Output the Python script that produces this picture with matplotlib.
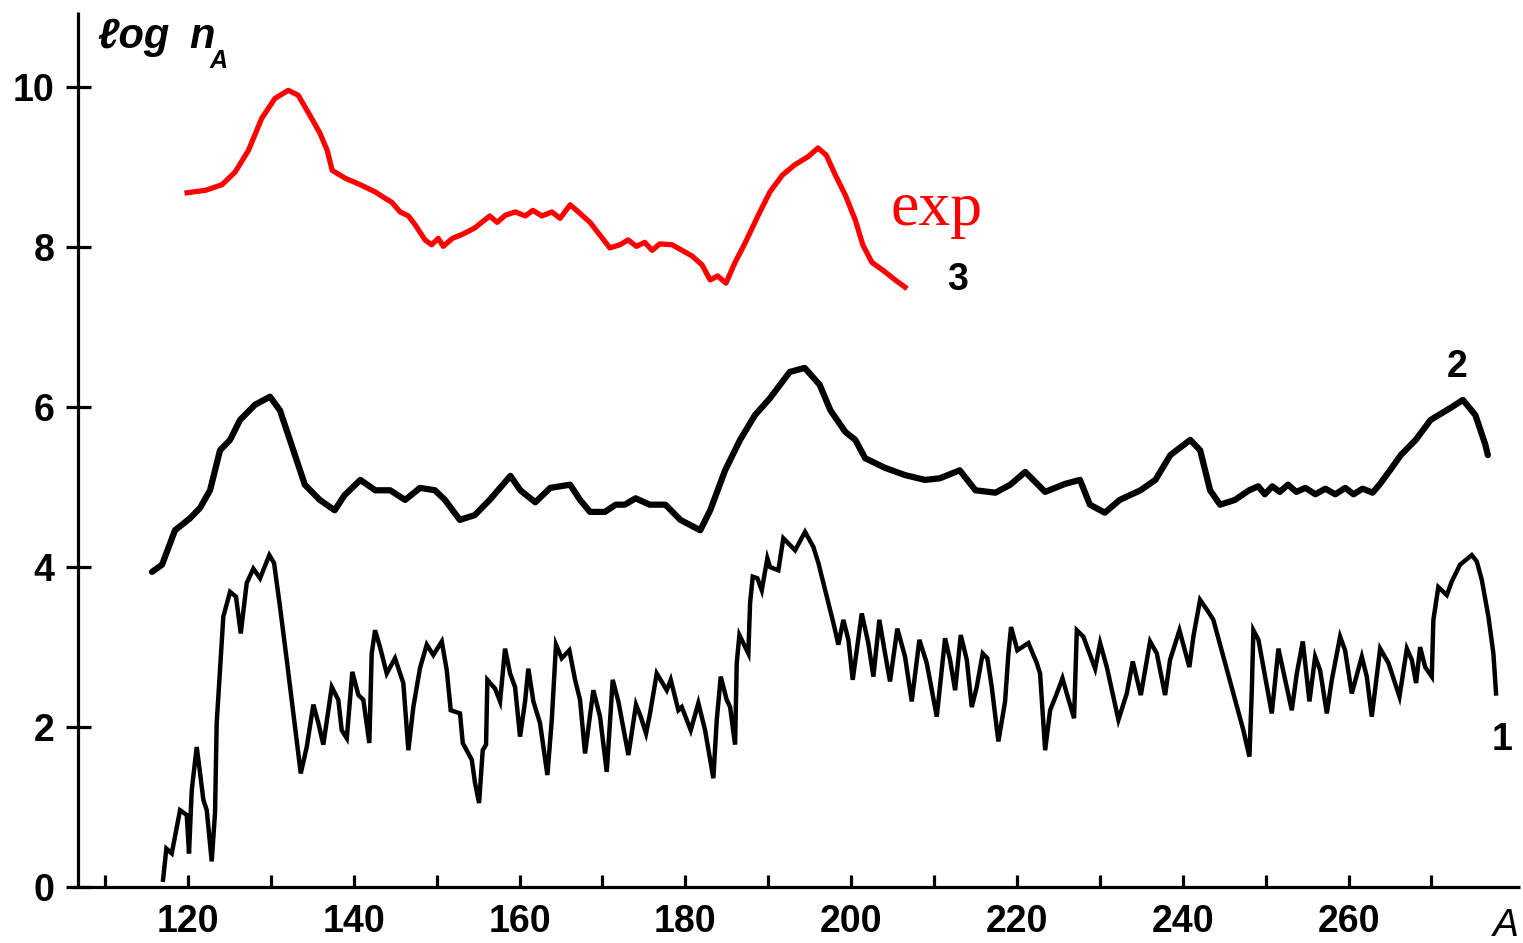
import matplotlib
matplotlib.use("Agg")
import matplotlib.pyplot as plt
from matplotlib import font_manager

# ---------------- data ----------------
# curve 1 (thin jagged black)
A1 = [117.0, 117.4, 118.05, 119.05, 119.86, 120.13, 120.46, 121.06, 121.46, 121.86,
      122.27, 122.87, 123.27, 123.47, 123.87, 124.27, 125.08, 125.80, 126.37, 127.09,
      127.89, 128.70, 129.82, 130.39, 131.11, 131.92, 132.72, 133.61, 134.33, 135.13,
      135.73, 136.33, 137.35, 138.14, 138.55, 139.16, 139.83, 140.56, 141.16, 141.88,
      142.17, 142.57, 143.17, 143.98, 144.98, 145.98, 146.59, 147.19, 148.00, 148.81,
      149.60, 150.62, 151.22, 151.70, 152.82, 153.15, 154.24, 154.63, 155.12, 155.56,
      155.96, 156.12, 157.05, 157.65, 158.25, 158.86, 159.46, 160.06, 160.67, 161.06,
      161.67, 162.47, 163.36, 163.89, 164.40, 165.09, 166.01, 166.70, 167.30, 167.90,
      168.90, 169.71, 170.52, 171.24, 171.92, 173.13, 174.05, 174.62, 175.26, 175.74,
      176.55, 177.76, 178.24, 179.16, 179.57, 180.65, 181.57, 182.38, 183.38, 183.79,
      184.27, 184.99, 185.40, 186.00, 186.20, 186.52, 187.60, 187.81, 188.13, 188.69,
      189.22, 189.89, 190.22, 191.22, 191.82, 193.24, 194.44, 195.45, 196.05, 197.06,
      197.86, 198.46, 199.06, 199.67, 200.19, 201.28, 202.07, 202.68, 203.40, 204.09,
      204.69, 205.57, 206.50, 207.31, 208.23, 209.12, 210.33, 211.33, 211.93, 212.54,
      213.22, 213.95, 214.55, 215.15, 215.87, 216.43, 216.96, 217.76, 218.57, 218.97,
      219.29, 220.05, 221.38, 222.39, 222.79, 223.40, 224.00, 224.81, 225.49, 226.01,
      226.89, 227.22, 228.01, 229.43, 230.03, 230.84, 232.24, 233.25, 233.97, 234.94,
      236.06, 236.87, 237.87, 238.47, 239.60, 240.80, 241.28, 242.09, 243.09, 243.69,
      244.90, 246.11, 247.31, 248.04, 248.33, 248.52, 249.13, 249.93, 250.74, 251.54,
      252.35, 253.15, 253.76, 254.48, 255.28, 255.97, 256.57, 257.38, 257.98, 258.98,
      259.58, 260.39, 261.60, 262.20, 262.80, 263.81, 264.81, 266.14, 267.03, 267.63,
      268.15, 268.63, 269.24, 270.04, 270.23, 270.83, 271.85, 272.45, 273.45, 274.86,
      275.47, 276.07, 276.87, 277.47, 277.79]
N1 = [0.09, 0.48, 0.42, 0.96, 0.90, 0.42, 1.21, 1.75, 1.43, 1.09,
      0.96, 0.32, 0.93, 2.05, 2.71, 3.38, 3.69, 3.63, 3.17, 3.80,
      3.98, 3.86, 4.15, 4.05, 3.50, 2.84, 2.17, 1.42, 1.75, 2.28,
      2.05, 1.78, 2.50, 2.34, 1.96, 1.86, 2.69, 2.40, 2.34, 1.80,
      2.92, 3.21, 3.00, 2.67, 2.86, 2.55, 1.71, 2.25, 2.74, 3.03,
      2.90, 3.07, 2.71, 2.21, 2.17, 1.80, 1.59, 1.30, 1.05, 1.71,
      1.78, 2.59, 2.48, 2.32, 2.98, 2.67, 2.50, 1.88, 2.32, 2.73,
      2.32, 2.05, 1.40, 2.09, 3.03, 2.86, 2.96, 2.59, 2.34, 1.67,
      2.46, 2.13, 1.44, 2.59, 2.32, 1.65, 2.28, 2.13, 1.92, 2.17,
      2.67, 2.46, 2.59, 2.21, 2.25, 1.96, 2.30, 1.96, 1.36, 2.09,
      2.63, 2.34, 2.25, 1.78, 2.80, 3.15, 2.92, 3.55, 3.88, 3.86,
      3.71, 4.11, 4.00, 3.96, 4.36, 4.21, 4.44, 4.25, 4.05, 3.63,
      3.30, 3.03, 3.34, 3.09, 2.59, 3.42, 3.05, 2.63, 3.34, 2.92,
      2.57, 3.23, 2.88, 2.32, 3.09, 2.80, 2.13, 3.11, 2.84, 2.46,
      3.15, 2.84, 2.25, 2.50, 2.92, 2.86, 2.50, 1.82, 2.32, 2.92,
      3.25, 2.96, 3.05, 2.80, 2.67, 1.71, 2.21, 2.42, 2.61, 2.42,
      2.11, 3.21, 3.13, 2.73, 3.05, 2.75, 2.09, 2.42, 2.82, 2.40,
      3.07, 2.92, 2.40, 2.84, 3.21, 2.75, 3.13, 3.59, 3.44, 3.34,
      2.88, 2.42, 1.96, 1.63, 2.46, 3.21, 3.09, 2.63, 2.17, 2.98,
      2.59, 2.21, 2.67, 3.07, 2.32, 2.88, 2.71, 2.17, 2.59, 3.13,
      2.96, 2.42, 2.88, 2.63, 2.13, 2.98, 2.80, 2.38, 2.98, 2.84,
      2.55, 3.00, 2.75, 2.63, 3.34, 3.75, 3.65, 3.82, 4.03, 4.15,
      4.07, 3.84, 3.38, 2.92, 2.42]

# curve 2 (thick black)
A2 = [115.67, 116.88, 118.44, 120.25, 121.46, 122.67, 123.87, 125.08, 126.29, 128.10,
      129.9, 131.1, 132.3, 134.1, 135.9, 137.7, 138.9, 140.8, 142.6, 144.4,
      146.2, 148.0, 149.8, 151.0, 152.8, 154.6, 156.4, 158.9, 160.1, 161.9,
      163.7, 166.1, 167.3, 168.5, 170.3, 171.6, 172.7, 174.0, 175.7, 177.6,
      179.4, 181.8, 183.0, 184.8, 186.6, 188.4, 190.2, 192.6, 194.4, 196.2,
      197.5, 199.3, 200.5, 201.7, 204.1, 206.5, 208.9, 210.7, 213.1, 215.0,
      217.4, 219.2, 221.0, 223.4, 225.8, 227.6, 228.8, 230.6, 232.4, 234.9,
      236.7, 238.5, 240.9, 242.1, 243.3, 244.5, 246.3, 248.0, 249.1, 249.9,
      250.8, 251.7, 252.7, 253.7, 254.8, 256.0, 257.2, 258.4, 259.6, 260.6,
      261.7, 262.9, 263.8, 265.0, 266.3, 268.1, 269.9, 272.3, 273.8, 275.3,
      276.5, 276.8]
N2 = [3.94, 4.03, 4.46, 4.61, 4.74, 4.96, 5.46, 5.59, 5.84, 6.03,
      6.13, 5.96, 5.59, 5.03, 4.84, 4.71, 4.90, 5.09, 4.96, 4.96,
      4.84, 4.99, 4.96, 4.84, 4.59, 4.65, 4.84, 5.14, 4.96, 4.81,
      4.99, 5.03, 4.84, 4.69, 4.69, 4.78, 4.78, 4.86, 4.78, 4.78,
      4.59, 4.46, 4.71, 5.21, 5.59, 5.90, 6.11, 6.44, 6.49, 6.28,
      5.96, 5.69, 5.59, 5.36, 5.24, 5.15, 5.09, 5.11, 5.21, 4.96,
      4.93, 5.03, 5.19, 4.94, 5.04, 5.09, 4.78, 4.68, 4.84, 4.96,
      5.09, 5.40, 5.59, 5.46, 4.96, 4.78, 4.84, 4.96, 5.01, 4.91,
      5.01, 4.94, 5.03, 4.94, 4.99, 4.91, 4.98, 4.91, 4.99, 4.91,
      4.98, 4.93, 5.04, 5.21, 5.40, 5.59, 5.84, 5.99, 6.09, 5.90,
      5.53, 5.40]

# curve 3 (experiment, red)
A3 = [119.9, 122.1, 124.1, 125.7, 127.3, 128.9, 130.5, 132.1, 133.3, 134.7,
      135.9, 136.8, 137.4, 139.0, 140.8, 142.6, 143.8, 144.6, 145.6, 146.6,
      147.4, 148.6, 149.4, 150.2, 150.8, 151.9, 153.1, 154.6, 156.4, 157.3,
      158.3, 159.5, 160.7, 161.6, 162.7, 163.9, 164.9, 166.1, 167.1, 168.5,
      169.7, 170.9, 172.1, 173.1, 174.1, 175.1, 176.0, 176.9, 178.4, 179.6,
      180.8, 182.0, 183.0, 183.9, 184.9, 186.0, 187.2, 188.8, 190.2, 191.7,
      193.2, 194.8, 196.0, 197.0, 198.1, 199.3, 200.5, 201.4, 202.5, 204.1,
      205.3, 206.5]
N3 = [8.68, 8.71, 8.78, 8.94, 9.21, 9.61, 9.86, 9.96, 9.90, 9.65,
      9.43, 9.21, 8.96, 8.86, 8.78, 8.69, 8.61, 8.56, 8.44, 8.39,
      8.28, 8.09, 8.03, 8.11, 8.01, 8.11, 8.16, 8.24, 8.39, 8.31,
      8.40, 8.44, 8.39, 8.46, 8.39, 8.44, 8.36, 8.53, 8.44, 8.31,
      8.15, 7.99, 8.03, 8.09, 8.01, 8.06, 7.96, 8.04, 8.03, 7.96,
      7.89, 7.78, 7.59, 7.64, 7.55, 7.81, 8.05, 8.40, 8.69, 8.90,
      9.03, 9.13, 9.24, 9.15, 8.90, 8.65, 8.34, 8.03, 7.81, 7.69,
      7.59, 7.50]

x_ticks = list(range(110, 271, 10))
x_ticklabels = ["" if t % 20 else str(t) for t in x_ticks]
y_ticks = [0, 2, 4, 6, 8, 10]
y_ticklabels = ["0", "2", "4", "6", "8", "10"]

# ---------------- fonts ----------------
names = {f.name for f in font_manager.fontManager.ttflist}
NARROW = "Liberation Sans Narrow" if "Liberation Sans Narrow" in names else "Liberation Sans"
num_size = 31 if NARROW == "Liberation Sans Narrow" else 27

# ---------------- figure ----------------
W, H = 1523, 943
fig = plt.figure(figsize=(W / 100, H / 100), dpi=100)
ax = fig.add_axes([78 / W, 56 / H, (1520 - 78) / W, (887 - 12) / H])
ax.set_xlim(106.74, 280.68)
ax.set_ylim(0, 10.94)

for s in ("top", "right"):
    ax.spines[s].set_visible(False)
for s in ("left", "bottom"):
    ax.spines[s].set_linewidth(2.3)
    ax.spines[s].set_capstyle("butt")
ax.spines["bottom"].set_bounds(106.14, 280.68)

ax.plot(A1, N1, color="black", lw=3.2, solid_joinstyle="miter", clip_on=False)
ax.plot(A2, N2, color="black", lw=4.5, solid_joinstyle="round", solid_capstyle="round", clip_on=False)
ax.plot(A3, N3, color="#ff0000", lw=3.8, solid_joinstyle="round", clip_on=False)

tick_font = dict(family=NARROW, weight="bold", size=num_size)
ax.set_xticks(x_ticks)
ax.set_xticklabels(x_ticklabels, **tick_font)
ax.set_yticks(y_ticks)
ax.set_yticklabels(y_ticklabels, **tick_font)
ax.tick_params(axis="x", direction="in", length=9, width=2.3, pad=12)
ax.tick_params(axis="y", direction="inout", length=18, width=2.3, pad=8)

# axis titles
fig.text(97 / W, 1 - 48 / H, "\u2113og", family=["Liberation Sans", "DejaVu Sans"],
         style="italic", weight="bold", size=30, ha="left", va="baseline")
fig.text(189 / W, 1 - 48 / H, "n", family=["Liberation Sans", "DejaVu Sans"],
         style="italic", weight="bold", size=30, ha="left", va="baseline")
fig.text(210 / W, 1 - 68 / H, "A", family="Liberation Sans", style="italic",
         weight="bold", size=18, ha="left", va="baseline")
fig.text(1506 / W, 1 - 936 / H, "A", family="Liberation Sans", style="italic",
         size=28, ha="center", va="baseline")

# curve labels
ax.text(204.7, 8.28, "exp", family="Liberation Serif", color="#ff0000", size=46,
        ha="left", va="baseline")
lab = dict(family=NARROW, weight="bold", size=num_size, ha="center", va="baseline")
ax.text(212.8, 7.47, "3", **lab)
ax.text(273.1, 6.38, "2", **lab)
ax.text(278.5, 1.71, "1", **lab)

fig.savefig("out.png", dpi=100)
